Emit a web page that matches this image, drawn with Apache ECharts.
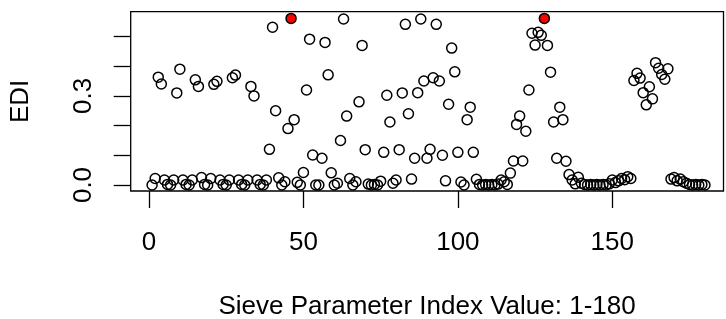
<!DOCTYPE html>
<html>
<head>
<meta charset="utf-8">
<script src="https://cdn.jsdelivr.net/npm/echarts@6/dist/echarts.min.js"></script>
<style>
  html, body { margin: 0; padding: 0; background: #fff; }
  #chart { width: 726px; height: 319px; }
</style>
</head>
<body>
<div id="chart"></div>
<script>
// EDI per sieve parameter index (1-180)
const edi = [
  0.000, 0.022, 0.363, 0.340, 0.017, 0.002,
  0.000, 0.017, 0.310, 0.390, 0.017, 0.002,
  0.000, 0.017, 0.354, 0.332, 0.025, 0.002,
  0.000, 0.022, 0.339, 0.349, 0.017, 0.002,
  0.000, 0.017, 0.361, 0.370, 0.017, 0.002,
  0.000, 0.017, 0.332, 0.300, 0.017, 0.002,
  0.000, 0.017, 0.120, 0.531, 0.250, 0.024,
  0.000, 0.011, 0.190, 0.561, 0.220, 0.009,
  0.000, 0.042, 0.320, 0.491, 0.101, 0.000,
  0.000, 0.090, 0.480, 0.371, 0.041, 0.000,
  0.006, 0.150, 0.559, 0.232, 0.022, 0.000,
  0.011, 0.280, 0.470, 0.119, 0.003, 0.000,
  0.002, 0.000, 0.013, 0.110, 0.302, 0.212,
  0.006, 0.017, 0.119, 0.310, 0.541, 0.240,
  0.020, 0.090, 0.311, 0.559, 0.350, 0.090,
  0.120, 0.361, 0.541, 0.350, 0.100, 0.014,
  0.272, 0.461, 0.381, 0.110, 0.010, 0.000,
  0.220, 0.262, 0.110, 0.019, 0.002, 0.000,
  0.002, 0.000, 0.002, 0.000, 0.003, 0.017,
  0.011, 0.002, 0.040, 0.081, 0.204, 0.232,
  0.081, 0.181, 0.320, 0.511, 0.471, 0.514,
  0.504, 0.561, 0.470, 0.380, 0.212, 0.090,
  0.262, 0.220, 0.080, 0.035, 0.017, 0.004,
  0.026, 0.006, 0.002, 0.000, 0.002, 0.000,
  0.002, 0.000, 0.002, 0.000, 0.004, 0.017,
  0.008, 0.014, 0.022, 0.018, 0.028, 0.022,
  0.352, 0.376, 0.360, 0.311, 0.270, 0.331,
  0.290, 0.412, 0.393, 0.372, 0.356, 0.391,
  0.020, 0.025, 0.014, 0.020, 0.011, 0.006,
  0.002, 0.000, 0.002, 0.000, 0.002, 0.000
];

// indices drawn as red filled points
const redIdx = [46, 128];

// ticks and labels
const xTicks = [0, 50, 100, 150];
const yTicks = [0, 0.1, 0.2, 0.3, 0.4, 0.5];
const yLabels = [0, 0.3];

const font = 'Liberation Sans, Arial, Helvetica, sans-serif';

const openPts = [];
const redPts = [];
edi.forEach((v, i) => {
  const idx = i + 1;
  if (redIdx.includes(idx)) redPts.push([idx, v]);
  else openPts.push([idx, v]);
});

const myChart = echarts.init(document.getElementById('chart'));

const option = {
  animation: false,
  grid: {
    left: 130.7, right: 2.5, top: 11.7, bottom: 128,
    show: true, borderColor: '#000', borderWidth: 1.3,
    containLabel: false, outerBoundsMode: 'none'
  },
  xAxis: {
    type: 'value',
    min: -5.92, max: 186.0,
    splitLine: { show: false },
    axisLine: { show: false, onZero: false },
    axisTick: { show: true, length: 17, customValues: xTicks, lineStyle: { color: '#000', width: 1.3 } },
    axisLabel: { customValues: xTicks, margin: 39, fontSize: 26, color: '#000', fontFamily: font },
    name: 'Sieve Parameter Index Value: 1-180',
    nameLocation: 'middle',
    nameGap: 103,
    nameTextStyle: { fontSize: 26, color: '#000', fontFamily: font }
  },
  yAxis: {
    type: 'value',
    min: -0.0202, max: 0.5835,
    splitLine: { show: false },
    axisLine: { show: false, onZero: false },
    axisTick: { show: true, length: 17, customValues: yTicks, lineStyle: { color: '#000', width: 1.3 } },
    axisLabel: {
      customValues: yLabels, rotate: 90, margin: 34, fontSize: 26, color: '#000', fontFamily: font,
      formatter: v => v.toFixed(1)
    },
    name: 'EDI',
    nameLocation: 'middle',
    nameRotate: 90,
    nameGap: 97,
    nameTextStyle: { fontSize: 26, color: '#000', fontFamily: font }
  },
  series: [
    {
      type: 'scatter',
      data: openPts,
      symbol: 'circle',
      symbolSize: 10,
      itemStyle: { color: 'rgba(0,0,0,0)', borderColor: '#000', borderWidth: 1.5, opacity: 1 }
    },
    {
      type: 'scatter',
      data: redPts,
      symbol: 'circle',
      symbolSize: 10,
      z: 3,
      itemStyle: { color: '#ff0000', borderColor: '#000', borderWidth: 1.5, opacity: 1 }
    }
  ]
};

myChart.setOption(option);
</script>
</body>
</html>
